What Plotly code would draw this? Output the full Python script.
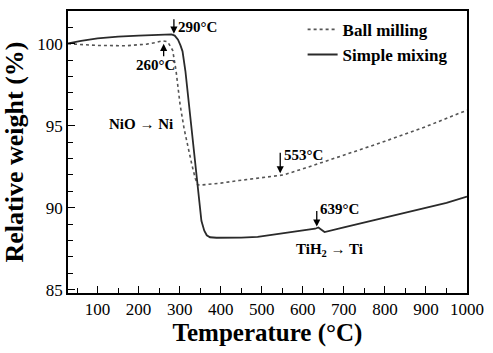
import plotly.graph_objects as go

# Simple mixing (solid)
sm_temp = [28, 60, 100, 150, 200, 250, 280, 288, 296, 302, 307, 314, 324, 334, 341, 346,
           353, 360, 366, 374, 390, 450, 490, 541, 600, 630, 638, 653, 700, 743, 800, 864,
           900, 950, 1000]
sm_weight = [100.02, 100.18, 100.33, 100.44, 100.50, 100.55, 100.57, 100.50, 100.25, 99.90,
             99.54, 98.34, 96.0, 93.55, 91.7, 90.6, 89.2, 88.6, 88.32, 88.2, 88.17, 88.18,
             88.22, 88.4, 88.6, 88.72, 88.8, 88.52, 88.8, 89.06, 89.38, 89.76, 90.0, 90.3,
             90.68]

# Ball milling (dotted)
bm_temp = [28, 60, 100, 170, 220, 243, 258, 271, 283, 291, 301, 311, 321, 330, 338, 344,
           350, 400, 444, 500, 553, 606, 700, 800, 900, 1000]
bm_weight = [100.0, 99.95, 99.9, 99.88, 99.98, 100.08, 100.18, 100.12, 99.6, 98.4, 96.3,
             94.8, 93.55, 92.6, 91.8, 91.4, 91.38, 91.5, 91.66, 91.82, 92.0, 92.42, 93.2,
             94.05, 94.95, 95.95]

x_ticks = [100, 200, 300, 400, 500, 600, 700, 800, 900, 1000]
y_ticks = [85, 90, 95, 100]

SERIF = "Liberation Serif, Times New Roman, serif"

fig = go.Figure()
fig.add_trace(go.Scatter(x=bm_temp, y=bm_weight, mode="lines", name="Ball milling",
                         line=dict(color="#555555", width=1.6, dash="dot")))
fig.add_trace(go.Scatter(x=sm_temp, y=sm_weight, mode="lines", name="Simple mixing",
                         line=dict(color="#2a2a2a", width=1.8)))

axis_common = dict(showline=True, linecolor="black", linewidth=1.5, mirror=True,
                   ticks="inside", tickcolor="black", ticklen=7, tickwidth=1.3,
                   showgrid=False, zeroline=False,
                   tickfont=dict(family=SERIF, size=17, color="black"))

fig.update_xaxes(range=[28, 1000], tickvals=x_ticks,
                 minor=dict(dtick=50, tick0=0, ticks="inside", ticklen=5, tickcolor="black"),
                 title=dict(text="Temperature (°C)", standoff=5,
                            font=dict(family=SERIF, size=25, color="black", weight="bold")),
                 **axis_common)
fig.update_yaxes(range=[84.8, 102], tickvals=y_ticks,
                 minor=dict(dtick=1, tick0=0, ticks="inside", ticklen=5, tickcolor="black"),
                 title=dict(text="Relative weight (%)", standoff=6,
                            font=dict(family=SERIF, size=26, color="black", weight="bold")),
                 **axis_common)

ann_font = dict(family=SERIF, size=15, color="black", weight="bold")

def arrow(x, y, ay):
    fig.add_annotation(x=x, y=y, xref="x", yref="y", text="", showarrow=True,
                       ax=0, ay=ay, arrowhead=2, arrowsize=1.1, arrowwidth=1.3,
                       arrowcolor="black")

def label(x, y, text, xanchor="center"):
    fig.add_annotation(x=x, y=y, xref="x", yref="y", text=text, showarrow=False,
                       xanchor=xanchor, font=ann_font)

arrow(286, 100.62, -16)
label(291, 101.05, "290°C", "left")
arrow(261, 100.0, 14)
label(240, 98.7, "260°C")
label(207, 95.1, "NiO → Ni")
arrow(545, 92.1, -22)
label(549, 93.2, "553°C", "left")
arrow(634, 88.85, -17)
label(638, 89.95, "639°C", "left")
label(664, 87.45, "TiH<sub>2</sub> → Ti")

fig.update_layout(
    width=493, height=353,
    margin=dict(l=68, r=24, t=9, b=60),
    plot_bgcolor="white", paper_bgcolor="white",
    showlegend=True,
    legend=dict(x=0.588, y=0.997, xanchor="left", yanchor="top",
                bgcolor="rgba(0,0,0,0)", borderwidth=0,
                font=dict(family=SERIF, size=17, color="black", weight="bold"),
                itemwidth=30, tracegroupgap=0),
    font=dict(family=SERIF, color="black"),
)

fig.write_html("out.html")
